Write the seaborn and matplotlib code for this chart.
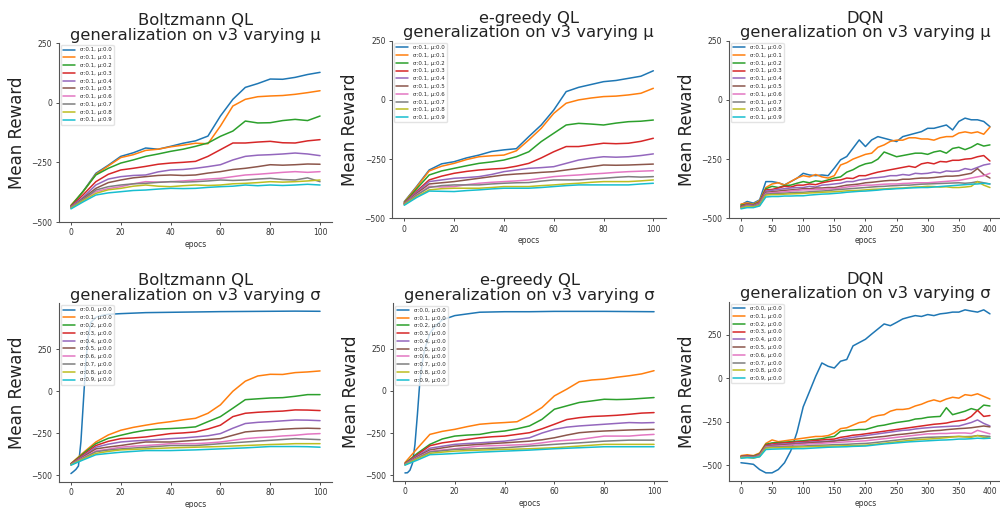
import pandas as pd
import matplotlib
matplotlib.use("Agg")
import matplotlib.pyplot as plt
import seaborn as sns

sns.set_style("ticks")
plt.rcParams['font.family'] = ['DejaVu Sans']

# epochs sampled from the curves
ql_epochs = list(range(0, 101, 5))
ql_fast_epochs = [0, 1, 2, 3, 4, 5, 6, 7, 8, 10, 12, 15, 20, 30, 40, 50, 60, 70, 80, 90, 100]
dqn_epochs = list(range(0, 401, 10))

mu_labels = ['σ:0.1, μ:0.%d' % i for i in range(10)]
sigma_labels = ['σ:0.%d, μ:0.0' % i for i in range(10)]

# Boltzmann QL, varying mu
boltz_mu = [
    [-437, -370, -296, -262, -225, -210, -190, -195, -183, -170, -160, -140, -56, 14, 64, 80, 99, 98, 106, 118, 127],
    [-430, -372, -300, -265, -230, -218, -200, -195, -185, -178, -170, -172, -98, -14, 14, 25, 28, 30, 35, 42, 50],
    [-432, -370, -303, -275, -253, -240, -225, -215, -204, -195, -183, -169, -141, -119, -77, -85, -84, -75, -70, -75, -56],
    [-435, -385, -331, -300, -282, -275, -267, -258, -253, -250, -246, -225, -197, -169, -169, -165, -162, -168, -169, -160, -155],
    [-437, -395, -345, -320, -310, -305, -303, -290, -282, -280, -275, -268, -260, -240, -225, -220, -218, -215, -211, -215, -222],
    [-440, -400, -359, -335, -324, -315, -310, -305, -303, -305, -303, -295, -289, -280, -275, -268, -260, -262, -260, -257, -258],
    [-440, -405, -373, -360, -352, -340, -331, -333, -331, -328, -324, -320, -317, -310, -303, -300, -296, -292, -289, -292, -289],
    [-440, -405, -366, -352, -345, -340, -338, -334, -331, -333, -331, -328, -324, -326, -324, -320, -317, -322, -324, -315, -331],
    [-442, -410, -380, -365, -359, -350, -345, -350, -352, -348, -345, -347, -345, -340, -338, -335, -331, -333, -331, -328, -324],
    [-445, -415, -387, -378, -373, -368, -366, -362, -359, -360, -359, -355, -352, -350, -345, -348, -345, -347, -345, -342, -345],
]

# e-greedy QL, varying mu
egreedy_mu = [
    [-430, -365, -296, -270, -261, -245, -233, -218, -211, -206, -155, -106, -43, 35, 53, 65, 77, 82, 91, 100, 123],
    [-432, -368, -300, -280, -268, -252, -240, -236, -233, -215, -169, -120, -57, -14, 0, 8, 14, 16, 21, 28, 49],
    [-435, -375, -317, -300, -289, -278, -268, -262, -254, -240, -219, -176, -141, -106, -99, -102, -106, -98, -92, -90, -85],
    [-437, -385, -338, -322, -310, -302, -296, -292, -289, -280, -268, -245, -219, -197, -197, -190, -183, -185, -183, -175, -162],
    [-438, -390, -345, -338, -331, -328, -324, -315, -303, -296, -289, -286, -282, -268, -254, -246, -240, -242, -240, -235, -228],
    [-440, -395, -355, -350, -345, -338, -331, -324, -317, -313, -310, -306, -303, -296, -289, -282, -275, -276, -275, -273, -271],
    [-440, -400, -365, -368, -366, -358, -352, -348, -345, -342, -338, -331, -324, -320, -317, -313, -310, -306, -303, -301, -299],
    [-440, -402, -370, -362, -359, -359, -359, -355, -352, -350, -349, -343, -338, -338, -338, -334, -331, -327, -324, -326, -324],
    [-442, -408, -380, -375, -373, -373, -373, -370, -366, -366, -366, -362, -359, -355, -352, -348, -345, -345, -345, -342, -338],
    [-445, -412, -385, -386, -387, -383, -380, -376, -373, -373, -373, -370, -366, -362, -359, -359, -359, -359, -359, -355, -352],
]

# Boltzmann QL, varying sigma (first run sampled on ql_fast_epochs)
boltz_sigma = [
    [-490, -478, -465, -445, -300, -60, 180, 330, 410, 440, 450, 458, 462, 468, 470, 472, 474, 475, 476, 477, 476],
    [-430, -365, -302, -260, -232, -215, -202, -190, -181, -170, -161, -131, -81, 0, 60, 91, 101, 100, 111, 115, 121],
    [-432, -370, -312, -280, -262, -245, -232, -225, -222, -218, -212, -181, -151, -101, -50, -45, -40, -38, -30, -20, -20],
    [-433, -378, -323, -298, -282, -278, -272, -262, -252, -248, -242, -225, -202, -151, -131, -125, -121, -118, -111, -112, -115],
    [-435, -385, -333, -315, -302, -296, -292, -287, -282, -278, -272, -265, -252, -220, -192, -185, -181, -176, -171, -172, -175],
    [-436, -390, -343, -332, -323, -312, -302, -302, -302, -297, -292, -287, -282, -262, -242, -236, -232, -226, -222, -220, -222],
    [-437, -395, -355, -345, -333, -327, -323, -318, -312, -312, -312, -308, -302, -292, -282, -276, -272, -266, -262, -255, -252],
    [-437, -398, -360, -350, -343, -338, -333, -328, -323, -323, -323, -318, -312, -307, -302, -297, -292, -287, -282, -285, -288],
    [-438, -402, -370, -358, -349, -346, -343, -340, -337, -335, -333, -331, -329, -326, -323, -320, -317, -315, -312, -312, -312],
    [-440, -408, -378, -370, -363, -358, -353, -353, -353, -351, -349, -346, -343, -340, -337, -333, -329, -329, -329, -330, -333],
]

# e-greedy QL, varying sigma (first run sampled on ql_fast_epochs)
egreedy_sigma = [
    [-486, -485, -470, -430, -320, -140, 60, 170, 250, 340, 380, 420, 445, 465, 468, 468, 470, 470, 470, 469, 468],
    [-425, -340, -258, -240, -228, -212, -198, -192, -188, -183, -145, -99, -30, 10, 54, 64, 69, 80, 89, 100, 119],
    [-430, -370, -317, -285, -268, -262, -258, -245, -238, -225, -208, -169, -109, -89, -69, -60, -50, -52, -50, -45, -40],
    [-432, -378, -325, -308, -298, -288, -278, -272, -268, -258, -248, -225, -198, -170, -159, -152, -149, -145, -139, -132, -129],
    [-433, -385, -340, -328, -317, -312, -308, -303, -298, -288, -278, -250, -228, -215, -208, -203, -198, -193, -188, -190, -188],
    [-435, -390, -350, -338, -327, -322, -317, -312, -308, -303, -298, -290, -278, -262, -248, -242, -238, -235, -232, -230, -228],
    [-436, -395, -358, -350, -343, -335, -327, -325, -323, -320, -317, -308, -298, -293, -288, -278, -268, -268, -268, -262, -258],
    [-437, -398, -362, -355, -347, -345, -343, -340, -337, -332, -327, -322, -317, -312, -308, -303, -298, -295, -292, -292, -292],
    [-438, -402, -370, -363, -357, -354, -351, -349, -347, -345, -343, -340, -337, -332, -327, -322, -317, -317, -317, -317, -317],
    [-440, -410, -378, -375, -371, -367, -363, -360, -357, -354, -351, -347, -343, -340, -337, -334, -331, -331, -331, -331, -331],
]

# DQN, varying mu
dqn_mu = [
    [-443, -429, -436, -422, -345, -345, -350, -359, -345, -331, -310, -317, -320, -317, -320, -288, -253, -239, -204, -169, -197,
     -169, -155, -162, -169, -176, -155, -148, -141, -134, -120, -120, -113, -106, -127, -91, -77, -84, -84, -91, -113],
    [-440, -435, -440, -425, -370, -355, -350, -360, -345, -330, -320, -325, -315, -325, -330, -320, -275, -265, -250, -240, -230,
     -225, -200, -190, -175, -170, -170, -160, -160, -165, -165, -170, -160, -155, -155, -140, -135, -140, -135, -145, -115],
    [-445, -440, -442, -430, -375, -365, -370, -362, -360, -352, -345, -350, -342, -345, -338, -330, -325, -305, -295, -280, -270,
     -265, -250, -220, -230, -240, -235, -230, -225, -225, -230, -220, -215, -225, -205, -200, -210, -200, -185, -195, -190],
    [-450, -440, -445, -432, -380, -378, -372, -365, -368, -360, -360, -355, -358, -350, -345, -340, -338, -330, -332, -320, -320,
     -312, -305, -300, -295, -290, -285, -280, -285, -270, -265, -270, -260, -262, -255, -255, -250, -248, -240, -235, -258],
    [-452, -442, -446, -435, -385, -382, -378, -375, -372, -370, -370, -365, -368, -360, -358, -355, -352, -345, -345, -338, -335,
     -330, -328, -325, -320, -320, -315, -318, -310, -312, -310, -305, -308, -300, -302, -300, -290, -295, -285, -275, -270],
    [-452, -445, -448, -438, -390, -388, -385, -382, -380, -378, -375, -375, -372, -372, -370, -370, -365, -360, -358, -355, -350,
     -348, -345, -342, -340, -340, -335, -335, -332, -330, -330, -328, -325, -322, -322, -320, -315, -310, -290, -315, -330],
    [-455, -447, -450, -440, -395, -392, -390, -388, -385, -382, -380, -380, -378, -378, -376, -375, -372, -368, -365, -362, -360,
     -360, -358, -356, -355, -355, -353, -352, -350, -350, -350, -348, -346, -344, -342, -340, -335, -330, -325, -320, -310],
    [-455, -448, -450, -442, -398, -396, -395, -394, -392, -390, -390, -388, -386, -385, -383, -380, -378, -376, -374, -372, -370,
     -368, -366, -365, -363, -362, -360, -360, -358, -356, -355, -354, -353, -352, -351, -350, -352, -350, -345, -350, -355],
    [-457, -450, -452, -445, -402, -400, -400, -398, -397, -396, -395, -393, -392, -390, -389, -388, -386, -384, -383, -382, -380,
     -378, -377, -376, -374, -373, -372, -370, -368, -367, -365, -366, -368, -367, -370, -370, -368, -365, -345, -360, -370],
    [-460, -455, -455, -448, -410, -408, -408, -406, -406, -405, -405, -402, -400, -398, -397, -395, -393, -390, -388, -386, -385,
     -383, -381, -378, -377, -375, -374, -372, -371, -370, -370, -368, -366, -364, -362, -360, -358, -356, -355, -352, -355],
]

# DQN, varying sigma
dqn_sigma = [
    [-486, -490, -495, -525, -544, -544, -525, -486, -418, -311, -165, -78, 10, 87, 68, 58, 97, 107, 185, 204, 223,
     253, 282, 311, 301, 320, 340, 350, 359, 354, 365, 359, 369, 373, 379, 379, 392, 385, 379, 392, 369],
    [-445, -440, -445, -430, -375, -355, -365, -360, -355, -350, -345, -340, -335, -335, -330, -315, -290, -285, -270, -255, -250,
     -225, -215, -210, -190, -180, -180, -175, -160, -150, -135, -125, -135, -120, -110, -115, -95, -100, -90, -105, -120],
    [-450, -445, -448, -435, -380, -372, -370, -368, -365, -362, -360, -355, -352, -348, -340, -335, -305, -300, -298, -295, -295,
     -285, -275, -270, -262, -255, -250, -245, -235, -232, -225, -222, -220, -170, -210, -200, -190, -175, -185, -155, -160],
    [-450, -446, -450, -438, -385, -378, -375, -372, -370, -366, -365, -362, -358, -355, -352, -350, -340, -335, -328, -325, -320,
     -315, -310, -305, -300, -295, -290, -285, -280, -275, -270, -265, -262, -258, -250, -245, -240, -220, -185, -220, -215],
    [-452, -448, -452, -440, -390, -384, -380, -378, -376, -372, -370, -368, -366, -364, -362, -360, -352, -345, -340, -335, -330,
     -325, -320, -315, -310, -305, -300, -298, -292, -288, -285, -282, -280, -278, -276, -275, -265, -255, -240, -260, -275],
    [-452, -450, -452, -442, -392, -388, -385, -383, -380, -378, -375, -372, -370, -368, -365, -362, -358, -355, -352, -348, -345,
     -342, -338, -335, -330, -325, -322, -318, -314, -310, -305, -302, -300, -296, -293, -290, -288, -285, -280, -275, -280],
    [-455, -452, -455, -445, -395, -392, -390, -388, -385, -382, -380, -378, -376, -374, -372, -370, -368, -366, -364, -362, -360,
     -356, -352, -348, -344, -340, -336, -332, -328, -324, -320, -320, -318, -318, -316, -315, -315, -318, -300, -310, -320],
    [-455, -452, -455, -447, -398, -396, -395, -394, -392, -391, -390, -388, -386, -385, -384, -382, -381, -380, -378, -376, -375,
     -372, -368, -364, -360, -356, -352, -348, -345, -342, -340, -339, -338, -337, -336, -335, -336, -335, -330, -332, -335],
    [-457, -455, -460, -450, -402, -400, -400, -398, -397, -396, -395, -394, -393, -392, -391, -390, -389, -388, -387, -386, -385,
     -382, -378, -374, -370, -366, -362, -358, -355, -352, -350, -348, -345, -342, -338, -335, -338, -340, -330, -340, -345],
    [-460, -457, -458, -452, -410, -408, -407, -406, -406, -405, -405, -403, -401, -399, -397, -396, -395, -394, -392, -391, -390,
     -386, -382, -378, -375, -372, -369, -366, -364, -362, -360, -358, -356, -355, -353, -350, -350, -348, -345, -347, -345],
]

titles = ['Boltzmann QL\ngeneralization on v3 varying μ',
          'e-greedy QL\ngeneralization on v3 varying μ',
          'DQN\ngeneralization on v3 varying μ',
          'Boltzmann QL\ngeneralization on v3 varying σ',
          'e-greedy QL\ngeneralization on v3 varying σ',
          'DQN\ngeneralization on v3 varying σ']


def to_frame(series, labels, epochs, first_epochs=None):
    frames = []
    for i, (vals, lab) in enumerate(zip(series, labels)):
        xs = first_epochs if (i == 0 and first_epochs is not None) else epochs
        frames.append(pd.DataFrame({'epocs': xs, 'reward': vals, 'run': lab}))
    return pd.concat(frames, ignore_index=True)


panels = [
    (to_frame(boltz_mu, mu_labels, ql_epochs), mu_labels, 'ql', True),
    (to_frame(egreedy_mu, mu_labels, ql_epochs), mu_labels, 'ql', True),
    (to_frame(dqn_mu, mu_labels, dqn_epochs), mu_labels, 'dqn', True),
    (to_frame(boltz_sigma, sigma_labels, ql_epochs, ql_fast_epochs), sigma_labels, 'ql', False),
    (to_frame(egreedy_sigma, sigma_labels, ql_epochs, ql_fast_epochs), sigma_labels, 'ql', False),
    (to_frame(dqn_sigma, sigma_labels, dqn_epochs), sigma_labels, 'dqn', False),
]

# axes boxes in pixels: left, top, right, bottom
W, H = 1000, 508
boxes = [(58.5, 43, 332.5, 222), (391.8, 40.7, 665.8, 218.3), (728.5, 40.7, 1002.4, 218.3),
         (58.5, 303, 332.5, 481.7), (392.5, 303.3, 666.5, 481), (728.5, 301.7, 1002.4, 481)]

fig = plt.figure(figsize=(10, 5.08), dpi=100)
fig.patch.set_facecolor('white')

for (df, labels, kind, fixed), title, (l, t, r, b) in zip(panels, titles, boxes):
    ax = fig.add_axes([l / W, 1 - b / H, (r - l) / W, (b - t) / H])
    sns.lineplot(data=df, x='epocs', y='reward', hue='run', hue_order=labels,
                 palette='tab10', linewidth=1.1, ax=ax)
    sns.despine(ax=ax)
    if fixed:
        ax.set_ylim(-500, 250)
    ax.set_yticks([-500, -250, 0, 250])
    if kind == 'dqn':
        ax.set_xticks(range(0, 401, 50))
    else:
        ax.set_xticks(range(0, 101, 20))
    ax.set_title(title, fontsize=11.8, color='#222222', pad=2.5, linespacing=0.95)
    ax.set_ylabel('Mean Reward', fontsize=12, color='#222222')
    ax.set_xlabel('epocs', fontsize=5.5, color='#333333', labelpad=2)
    ax.tick_params(labelsize=5.5, length=2.5, width=0.6, pad=2, colors='#333333')
    for s in ax.spines.values():
        s.set_linewidth(0.8)
        s.set_color('#555555')
    ax.legend(loc='upper left', fontsize=4, handlelength=2.2, borderaxespad=0.4,
              frameon=True, framealpha=0.8, edgecolor='#dddddd', fancybox=True)

fig.savefig('out.png', dpi=100)
